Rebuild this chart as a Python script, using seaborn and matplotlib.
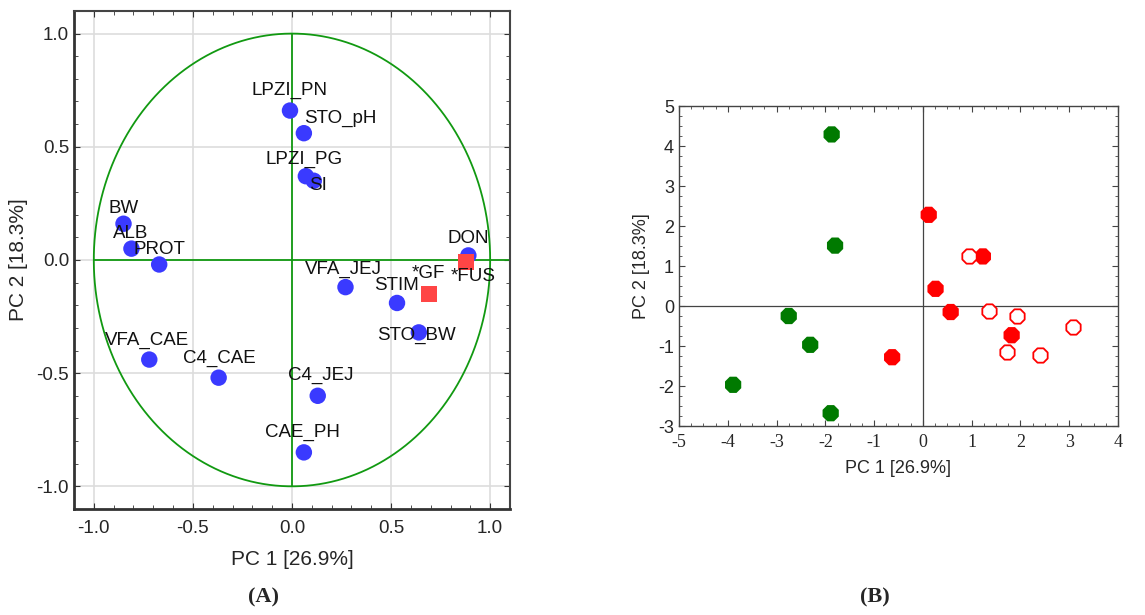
import numpy as np
import pandas as pd
import seaborn as sns
import matplotlib.pyplot as plt
from matplotlib.ticker import MultipleLocator

# Panel A: loadings (variables)
var_names = ["LPZI_PN", "STO_pH", "LPZI_PG", "SI", "BW", "ALB", "PROT", "DON",
             "VFA_JEJ", "STIM", "STO_BW", "VFA_CAE", "C4_CAE", "C4_JEJ", "CAE_PH"]
var_pc1 = [-0.01, 0.06, 0.07, 0.11, -0.85, -0.81, -0.67, 0.89,
           0.27, 0.53, 0.64, -0.72, -0.37, 0.13, 0.06]
var_pc2 = [0.66, 0.56, 0.37, 0.35, 0.16, 0.05, -0.02, 0.02,
           -0.12, -0.19, -0.32, -0.44, -0.52, -0.60, -0.85]

# supplementary variables (red squares)
sup_names = ["*GF", "*FUS"]
sup_pc1 = [0.69, 0.88]
sup_pc2 = [-0.15, -0.01]

# Panel B: scores (cases)
green_pc1 = [-1.87, -1.80, -2.75, -2.31, -3.89, -1.89]
green_pc2 = [4.29, 1.51, -0.25, -0.97, -1.97, -2.68]
red_pc1 = [0.12, 1.23, 0.26, 0.57, 1.82, -0.63]
red_pc2 = [2.28, 1.24, 0.43, -0.15, -0.73, -1.28]
open_pc1 = [0.95, 1.35, 1.94, 3.07, 1.73, 2.40]
open_pc2 = [1.26, -0.13, -0.24, -0.52, -1.15, -1.23]

# label offsets in pixels (layout only)
lab_off = {"LPZI_PN": (0, 20), "STO_pH": (36, 15), "LPZI_PG": (-2, 17), "SI": (4, -5),
           "BW": (0, 15), "ALB": (-1, 15), "PROT": (0, 15), "DON": (0, 17),
           "VFA_JEJ": (-2, 18), "STIM": (-1, 17), "STO_BW": (-2, -3), "VFA_CAE": (-2, 19),
           "C4_CAE": (1, 19), "C4_JEJ": (3, 20), "CAE_PH": (-1, 20),
           "*GF": (0, 20), "*FUS": (7, -14)}

sns.set_style("ticks")
plt.rcParams['font.family'] = ['Liberation Sans', 'DejaVu Sans']
plt.rcParams['axes.unicode_minus'] = False

fig = plt.figure(figsize=(11.45, 6.15), dpi=100)
axA = fig.add_axes([0.0646, 0.1724, 0.3808, 0.8098])
axB = fig.add_axes([0.593, 0.3073, 0.3834, 0.5203])

# ---- Panel A ----
green_line = "#119911"
t = np.linspace(0, 2 * np.pi, 400)
axA.plot(np.cos(t), np.sin(t), color=green_line, lw=1.3, zorder=2)
axA.plot([-1, 1.1], [0, 0], color=green_line, lw=1.3, zorder=2)
axA.plot([0, 0], [-1, 1], color=green_line, lw=1.3, zorder=2)

dfA = pd.DataFrame({"pc1": var_pc1, "pc2": var_pc2, "name": var_names})
sns.scatterplot(data=dfA, x="pc1", y="pc2", ax=axA, color="#3a3aff", s=140,
                edgecolor="none", zorder=3)
dfS = pd.DataFrame({"pc1": sup_pc1, "pc2": sup_pc2, "name": sup_names})
sns.scatterplot(data=dfS, x="pc1", y="pc2", ax=axA, color="#ff4545", s=130,
                marker="s", edgecolor="none", zorder=4)

for n, x, y in zip(var_names + sup_names, var_pc1 + sup_pc1, var_pc2 + sup_pc2):
    dx, dy = lab_off[n]
    axA.annotate(n, (x, y), xytext=(dx, dy), textcoords="offset pixels",
                 ha="center", va="center", fontsize=13.5, color="#111111", zorder=5)

axA.set_xlim(-1.1, 1.1)
axA.set_ylim(-1.1, 1.1)
axA.xaxis.set_minor_locator(MultipleLocator(0.1))
axA.yaxis.set_minor_locator(MultipleLocator(0.1))
axA.set_xticks([-1.0, -0.5, 0.0, 0.5, 1.0])
axA.set_xticklabels(["-1.0", "-0.5", "0.0", "0.5", "1.0"])
axA.set_yticks([-1.0, -0.5, 0.0, 0.5, 1.0])
axA.set_yticklabels(["-1.0", "-0.5", "0.0", "0.5", "1.0"])
axA.grid(True, which="major", color="#dddddd", lw=1.2, zorder=0)
axA.set_axisbelow(True)
axA.tick_params(which="both", direction="in", top=True, right=True, color="#333333",
                labelsize=13.5)
axA.tick_params(which="major", length=4)
axA.tick_params(which="minor", length=3)
axA.tick_params(axis="x", pad=8)
for s in ["left", "bottom"]:
    axA.spines[s].set_linewidth(2)
    axA.spines[s].set_color("#333333")
for s in ["top", "right"]:
    axA.spines[s].set_linewidth(1.5)
    axA.spines[s].set_color("#444444")
axA.set_xlabel("PC 1 [26.9%]", fontsize=15, labelpad=9)
axA.set_ylabel("PC 2 [18.3%]", fontsize=15, labelpad=6)

# ---- Panel B ----
sns.scatterplot(x=green_pc1, y=green_pc2, ax=axB, color="#007a00", s=160, marker="8",
                edgecolor="none", zorder=3)
sns.scatterplot(x=red_pc1, y=red_pc2, ax=axB, color="#ff0000", s=160, marker="8",
                edgecolor="none", zorder=3)
sns.scatterplot(x=open_pc1, y=open_pc2, ax=axB, facecolor="white", s=125, marker="8",
                edgecolor="#ff0000", linewidth=1.3, zorder=3)
axB.axhline(0, color="#444444", lw=0.9, zorder=1)
axB.axvline(0, color="#444444", lw=0.9, zorder=1)
axB.set_xlim(-5, 4)
axB.set_ylim(-3, 5)
axB.xaxis.set_major_locator(MultipleLocator(1))
axB.yaxis.set_major_locator(MultipleLocator(1))
axB.xaxis.set_minor_locator(MultipleLocator(0.25))
axB.yaxis.set_minor_locator(MultipleLocator(0.25))
axB.tick_params(which="both", direction="in", top=True, right=True, color="#444444",
                labelsize=13)
axB.tick_params(which="major", length=4)
axB.tick_params(which="minor", length=2)
axB.tick_params(axis="x", pad=6)
for lab in axB.get_xticklabels():
    lab.set_family(["Liberation Serif", "DejaVu Serif"])
for s in axB.spines.values():
    s.set_linewidth(1)
    s.set_color("#444444")
axB.set_xlabel("PC 1 [26.9%]", fontsize=13, labelpad=6)
axB.set_ylabel("PC 2 [18.3%]", fontsize=13, labelpad=6)

# panel letters
fig.text(0.2297, 0.029, "(A)", ha="center", va="center", fontsize=16, fontweight="bold",
         family=["Liberation Serif", "DejaVu Serif"])
fig.text(0.7642, 0.029, "(B)", ha="center", va="center", fontsize=16, fontweight="bold",
         family=["Liberation Serif", "DejaVu Serif"])

fig.savefig("out.png", dpi=100, facecolor="white")
